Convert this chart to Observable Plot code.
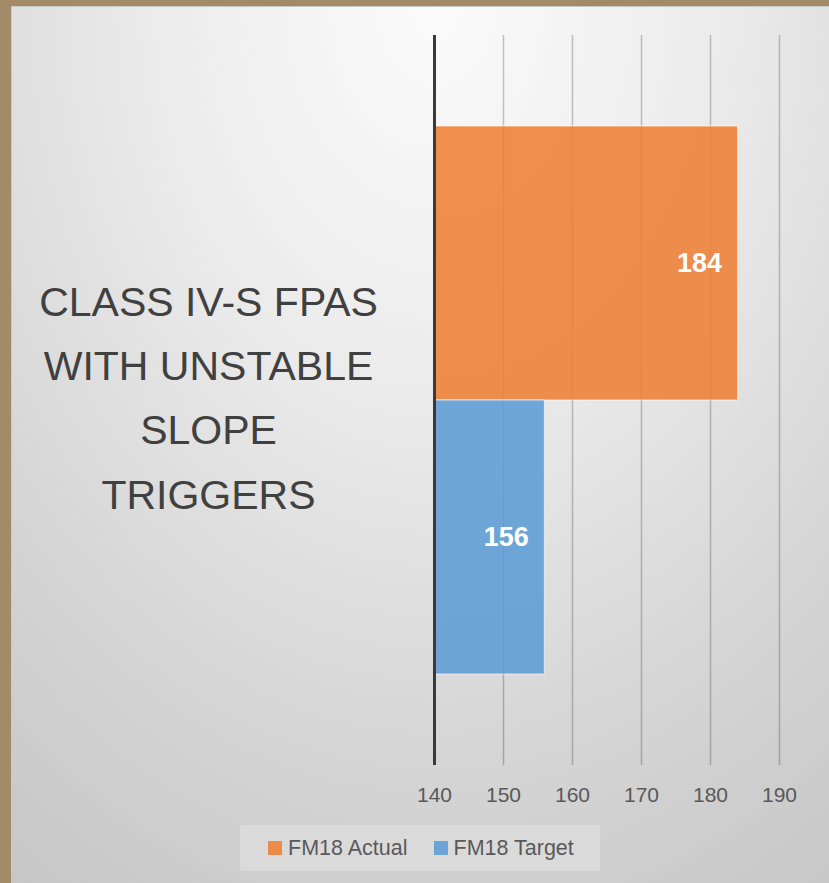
<!DOCTYPE html>
<html>
<head>
<meta charset="utf-8">
<script src="https://cdn.jsdelivr.net/npm/d3@7"></script>
<script src="https://cdn.jsdelivr.net/npm/@observablehq/plot@0.6"></script>
<style>
  html, body { margin: 0; padding: 0; }
  body { width: 829px; height: 883px; background: #a38b6a; position: relative; overflow: hidden;
         font-family: "Liberation Sans", Arial, sans-serif; }
  #panel { position: absolute; left: 11px; top: 6px; width: 818px; height: 877px;
           background: radial-gradient(ellipse 95% 120% at 52% 0%, #fbfbfb 0%, #ececec 35%, #d6d6d6 70%, #c6c6c6 100%);
           box-shadow: inset 1px 1px 0 #c9c9c9; }
  #chart { position: absolute; left: 0; top: 0; width: 829px; }
  #legend { margin-left: 240px; margin-top: 10px; width: 360px; height: 46px; background: #dadada;
            display: flex; align-items: center; box-sizing: border-box; padding-left: 28px;
            font-size: 21.5px; color: #595959; white-space: nowrap; }
  .item { display: flex; align-items: center; margin-right: 26px; flex: none; }
  .sw { width: 14px; height: 14px; margin-right: 6px; flex: none; }
</style>
</head>
<body>
<div id="panel"></div>
<div id="chart"></div>
<script>
// ---- data ----
const categories = ["CLASS IV-S FPAS WITH UNSTABLE SLOPE TRIGGERS"];
const categoryLines = ["CLASS IV-S FPAS", "WITH UNSTABLE", "SLOPE", "TRIGGERS"];
const series = ["FM18 Actual", "FM18 Target"];
const values = [184, 156];
const colors = ["#ED7D31", "#5B9BD5"];
const xTicks = [140, 150, 160, 170, 180, 190];

const data = series.map((s, i) => ({category: categories[0], series: s, value: values[i]}));
const xMin = xTicks[0], xMax = xTicks[xTicks.length - 1];

const chart = Plot.plot({
  width: 829,
  height: 815,
  marginLeft: 434,
  marginRight: 50,
  marginTop: 35,
  marginBottom: 50,
  style: {background: "transparent", fontFamily: "'Liberation Sans', Arial, sans-serif", color: "#595959"},
  x: {domain: [xMin, xMax], label: null},
  y: {domain: series, paddingInner: 0, paddingOuter: 0.33, axis: null},
  fy: {domain: categories, padding: 0, axis: null},
  color: {domain: series, range: colors},
  marks: [
    Plot.ruleX(xTicks.slice(1), {stroke: "#000", strokeOpacity: 0.22, strokeWidth: 1.5}),
    Plot.barX(data, {fy: "category", y: "series", x1: () => xMin, x2: "value", fill: "series",
      fillOpacity: 0.86, stroke: "#fff", strokeOpacity: 0.55, strokeWidth: 1.2}),
    Plot.ruleX([xMin], {stroke: "#3a3a3a", strokeWidth: 3}),
    Plot.text(data, {fy: "category", y: "series", x: "value", text: d => String(d.value),
      textAnchor: "end", dx: -16, fill: "white", fontWeight: "bold", fontSize: 27}),
    Plot.text(categories, {fy: d => d, text: () => categoryLines.join("\n"),
      frameAnchor: "left", dx: -226, dy: -9, textAnchor: "middle", fontSize: 41, lineHeight: 1.57,
      fill: "#404040"}),
    Plot.axisX({ticks: xTicks, tickSize: 0, tickPadding: 22, fontSize: 21, label: null,
      tickFormat: d => String(d), fill: "#595959"})
  ]
});
document.getElementById("chart").appendChild(chart);

const legend = document.createElement("div");
legend.id = "legend";
series.forEach((s, i) => {
  const it = document.createElement("div");
  it.className = "item";
  const sw = document.createElement("div");
  sw.className = "sw";
  sw.style.background = colors[i];
  sw.style.opacity = 0.86;
  const t = document.createElement("span");
  t.textContent = s;
  it.appendChild(sw); it.appendChild(t);
  legend.appendChild(it);
});
document.getElementById("chart").appendChild(legend);
</script>
</body>
</html>
